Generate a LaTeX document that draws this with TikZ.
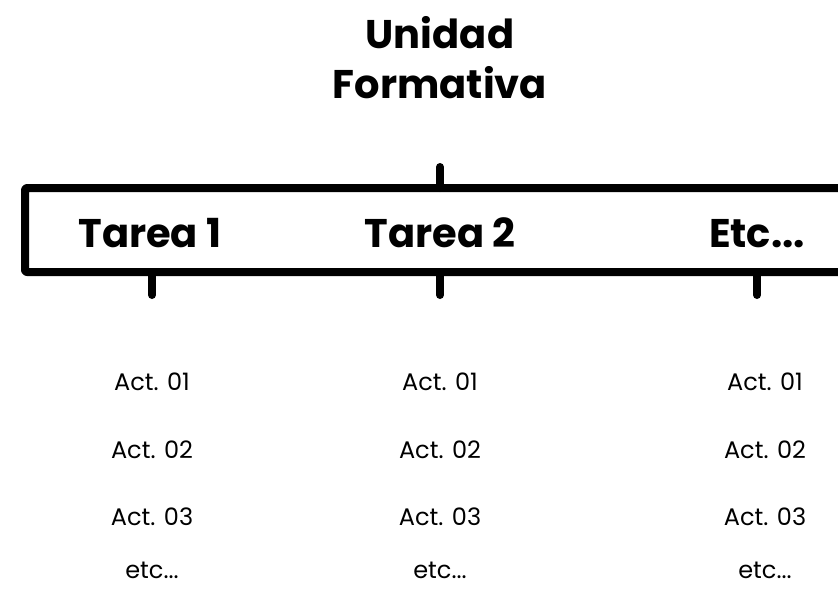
\documentclass[tikz,border=0pt]{standalone}
\usepackage{fontspec}
\setmainfont{Poppins}
\usetikzlibrary{positioning}

\tikzset{
	titulo/.style={font=\bfseries\fontsize{40}{50}\selectfont, inner sep=0pt, anchor=base},
	actividad/.style={font=\fontsize{24}{24}\selectfont, inner sep=0pt, anchor=base},
	barra/.style={line width=8pt, line cap=round, line join=round},
}

\begin{document}
\begin{tikzpicture}[x=1pt,y=-1pt]
		\useasboundingbox (0,0) rectangle (838,590);
		\clip (0,0) rectangle (838,590);
		\node[titulo] (unidad) at (440,48) {Unidad};
		\node[titulo] (formativa) at (440,98) {Formativa};
		% la caja de tareas
		\draw[barra, rounded corners=2pt] (850,188) -- (25,188) -- (25,272) -- (850,272);
		\coordinate (arriba) at (440,188);
		\coordinate (punta) at (440,167);
		\draw[barra] (arriba) -- (punta);
		\node[titulo] (tarea1) at (150,247) {Tarea 1};
		\node[titulo] (tarea2) at (440,247) {Tarea 2};
		\node[titulo] (tarea3) at (757,247) {Etc...};
		\foreach \n/\x/\cx in {1/152/152, 2/440/440, 3/757/765} {
			\coordinate (base\n) at (\x,272);
			\coordinate (pie\n) at (\x,295);
			\draw[barra] (base\n) -- (pie\n);
			\node[actividad] (act\n a) at (\cx,390) {Act. 01};
			\node[actividad] (act\n b) at (\cx,458) {Act. 02};
			\node[actividad] (act\n c) at (\cx,525) {Act. 03};
			\node[actividad] (act\n d) at (\cx,578) {etc...};
		}
	\end{tikzpicture}
\end{document}
